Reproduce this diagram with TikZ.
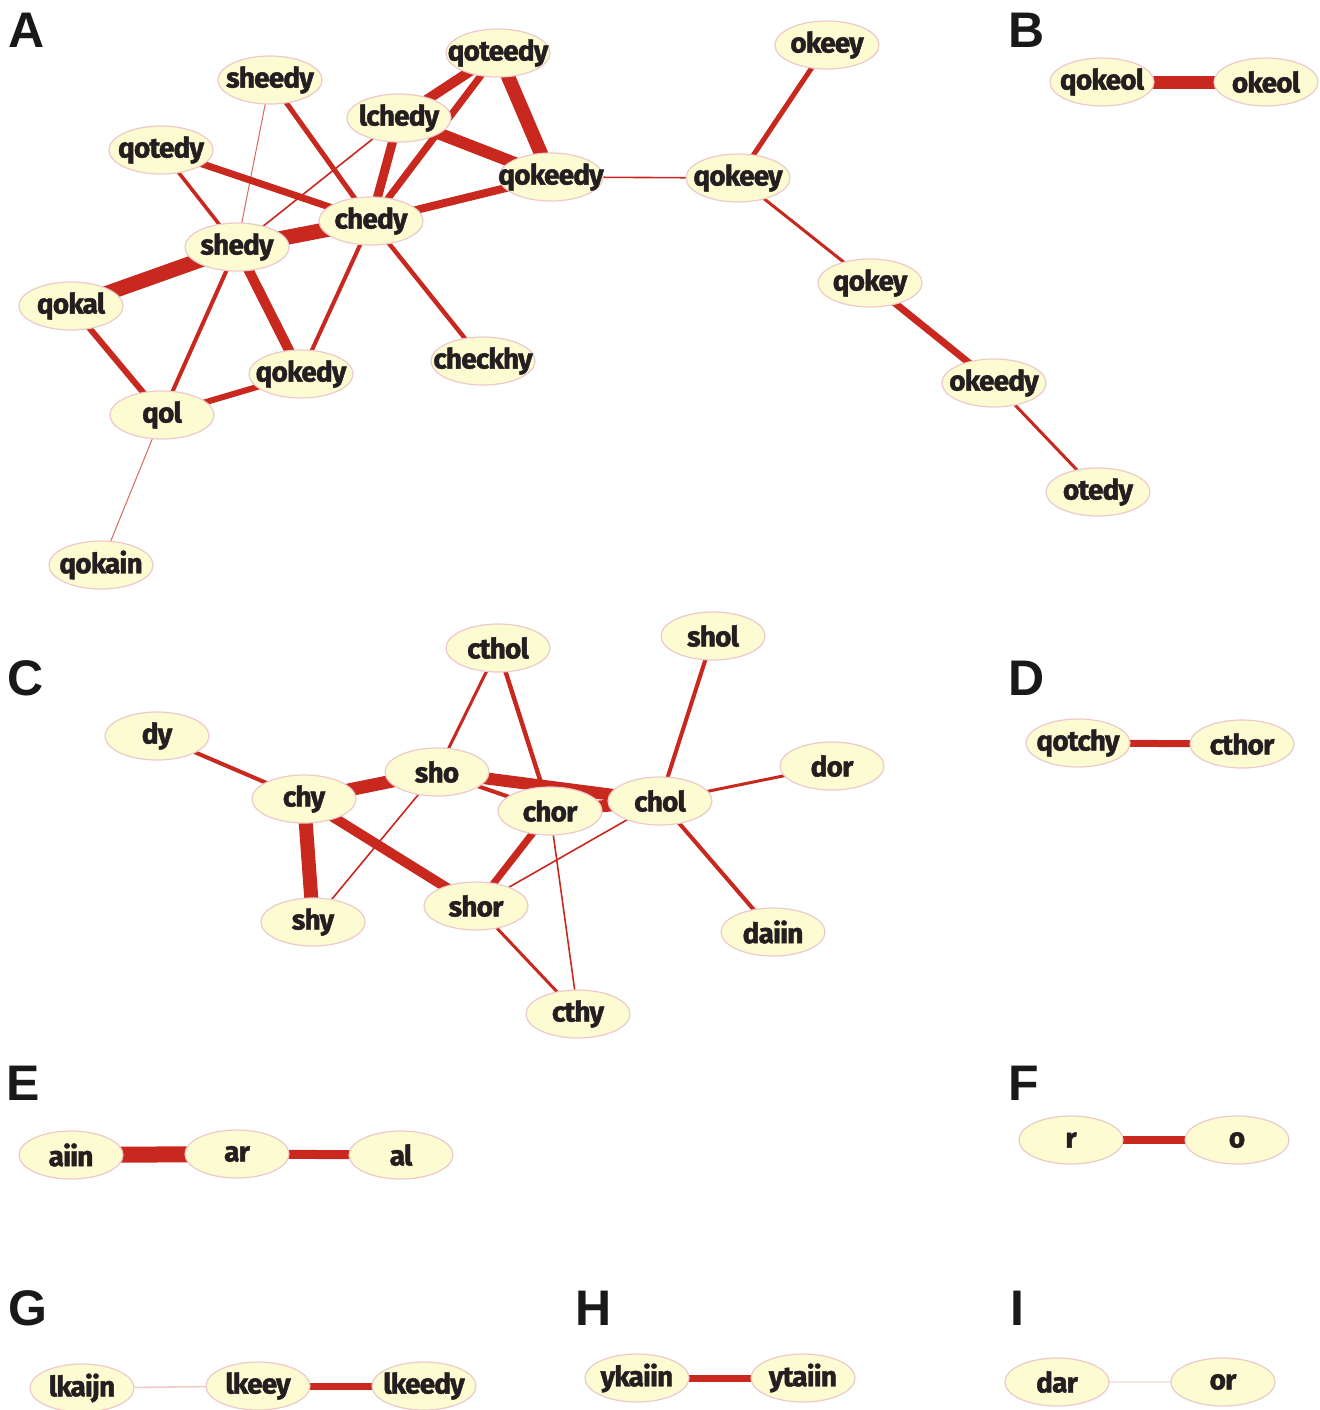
\documentclass[tikz,border=0pt]{standalone}
\usepackage{fontspec}
\usetikzlibrary{shapes.geometric,backgrounds}
\newfontfamily\nodefamily[LetterSpace=-3,FakeBold=1.6]{Fira Sans}
\newfontfamily\lblfamily{Liberation Sans}
\definecolor{edgered}{HTML}{C8281E}
\definecolor{nodefill}{HTML}{FDFBD2}
\definecolor{nodeborder}{HTML}{EDC9C9}
\definecolor{txt}{HTML}{231F20}
\newcommand\ntxt[1]{\makebox[0pt]{#1}}
\tikzset{
  wnode/.style={ellipse, draw=nodeborder, fill=nodefill, line width=0.6pt,
    minimum width=52pt, minimum height=24pt, inner sep=0pt, text=txt,
    font=\nodefamily\bfseries\fontsize{14}{14}\selectfont},
  plabel/.style={text=black!90, inner sep=0pt, font=\lblfamily\bfseries\fontsize{25}{25}\selectfont},
  lnk/.style={draw=edgered, line width=#1},
  thinlnk/.style={draw=edgered!70, line width=#1},
  faintlnk/.style={draw=edgered!25, line width=#1},
}
\begin{document}
\begin{tikzpicture}[x=0.5pt, y=-0.5pt]
\useasboundingbox (0,0) rectangle (1319,1410);
% panel labels
\node[plabel] (lA) at (27,30) {A};
\node[plabel] (lB) at (1027,30) {B};
\node[plabel] (lC) at (26,678) {C};
\node[plabel] (lD) at (1027,678) {D};
\node[plabel] (lE) at (23,1083) {E};
\node[plabel] (lF) at (1024,1083) {F};
\node[plabel] (lG) at (28,1308) {G};
\node[plabel] (lH) at (594,1308) {H};
\node[plabel] (lI) at (1017,1308) {I};
% panel A
\node[wnode] (sheedy) at (270,80) {\ntxt{sheedy}};
\node[wnode] (qoteedy) at (498,53) {\ntxt{qoteedy}};
\node[wnode] (lchedy) at (399,118) {\ntxt{lchedy}};
\node[wnode] (qotedy) at (161,150) {\ntxt{qotedy}};
\node[wnode] (qokeedy) at (551,177) {\ntxt{qokeedy}};
\node[wnode] (chedy) at (371,221) {\ntxt{chedy}};
\node[wnode] (shedy) at (237,247) {\ntxt{shedy}};
\node[wnode] (qokal) at (71,306) {\ntxt{qokal}};
\node[wnode] (qokedy) at (301,374) {\ntxt{qokedy}};
\node[wnode] (checkhy) at (483,361) {\ntxt{checkhy}};
\node[wnode] (qol) at (162,415) {\ntxt{qol}};
\node[wnode] (qokain) at (101,565) {\ntxt{qokain}};
\node[wnode] (okeey) at (827,45) {\ntxt{okeey}};
\node[wnode] (qokeey) at (738,178) {\ntxt{qokeey}};
\node[wnode] (qokey) at (870,283) {\ntxt{qokey}};
\node[wnode] (okeedy) at (994,383) {\ntxt{okeedy}};
\node[wnode] (otedy) at (1098,492) {\ntxt{otedy}};
% panel B
\node[wnode] (qokeol) at (1102,82) {\ntxt{qokeol}};
\node[wnode] (okeol) at (1266,82) {\ntxt{okeol}};
% panel C
\node[wnode] (cthol) at (498,648) {\ntxt{cthol}};
\node[wnode] (shol) at (713,636) {\ntxt{shol}};
\node[wnode] (dy) at (157,736) {\ntxt{dy}};
\node[wnode] (dor) at (832,766) {\ntxt{dor}};
\node[wnode] (chy) at (304,799) {\ntxt{chy}};
\node[wnode] (shy) at (313,922) {\ntxt{shy}};
\node[wnode] (shor) at (476,906) {\ntxt{shor}};
\node[wnode] (daiin) at (773,932) {\ntxt{daiin}};
\node[wnode] (cthy) at (578,1014) {\ntxt{cthy}};
\node[wnode] (sho) at (437,772) {\ntxt{sho}};
\node[wnode] (chor) at (550,811) {\ntxt{chor}};
\node[wnode] (chol) at (660,801) {\ntxt{chol}};
% panel D
\node[wnode] (qotchy) at (1078,743) {\ntxt{qotchy}};
\node[wnode] (cthor) at (1242,744) {\ntxt{cthor}};
% panel E
\node[wnode] (aiin) at (71,1155) {\ntxt{aiin}};
\node[wnode] (ar) at (237,1154) {\ntxt{ar}};
\node[wnode] (al) at (401,1155) {\ntxt{al}};
% panel F
\node[wnode] (r) at (1071,1140) {\ntxt{r}};
\node[wnode] (o) at (1237,1140) {\ntxt{o}};
% panel G
\node[wnode] (lkaijn) at (82,1388) {\ntxt{lkaijn}};
\node[wnode] (lkeey) at (258,1386) {\ntxt{lkeey}};
\node[wnode] (lkeedy) at (424,1386) {\ntxt{lkeedy}};
% panel H
\node[wnode] (ykaiin) at (637,1378) {\ntxt{ykaiin}};
\node[wnode] (ytaiin) at (803,1378) {\ntxt{ytaiin}};
% panel I
\node[wnode] (dar) at (1057,1382) {\ntxt{dar}};
\node[wnode] (or) at (1223,1382) {\ntxt{or}};

\begin{scope}[on background layer]
% A
\draw[lnk=7pt] (qoteedy.center) -- (qokeedy.center);
\draw[lnk=5pt] (qoteedy.center) -- (lchedy.center);
\draw[lnk=3.5pt] (qoteedy.center) -- (chedy.center);
\draw[lnk=6pt] (lchedy.center) -- (qokeedy.center);
\draw[lnk=4.5pt] (lchedy.center) -- (chedy.center);
\draw[lnk=0.8pt] (lchedy.center) -- (shedy.center);
\draw[lnk=2.5pt] (sheedy.center) -- (chedy.center);
\draw[thinlnk=0.5pt] (sheedy.center) -- (shedy.center);
\draw[lnk=3.5pt] (qotedy.center) -- (chedy.center);
\draw[lnk=1.8pt] (qotedy.center) -- (shedy.center);
\draw[lnk=4pt] (qokeedy.center) -- (chedy.center);
\draw[lnk=0.8pt] (qokeedy.center) -- (qokeey.center);
\draw[lnk=7.5pt] (chedy.center) -- (shedy.center);
\draw[lnk=7.5pt] (shedy.center) -- (qokal.center);
\draw[lnk=5pt] (shedy.center) -- (qokedy.center);
\draw[lnk=2pt] (shedy.center) -- (qol.center);
\draw[lnk=2pt] (chedy.center) -- (qokedy.center);
\draw[lnk=2.2pt] (chedy.center) -- (checkhy.center);
\draw[lnk=3pt] (qokal.center) -- (qol.center);
\draw[lnk=3pt] (qol.center) -- (qokedy.center);
\draw[thinlnk=0.5pt] (qol.center) -- (qokain.center);
\draw[lnk=2.5pt] (okeey.center) -- (qokeey.center);
\draw[lnk=1.5pt] (qokeey.center) -- (qokey.center);
\draw[lnk=3.5pt] (qokey.center) -- (okeedy.center);
\draw[lnk=1.5pt] (okeedy.center) -- (otedy.center);
% B
\draw[lnk=6.5pt] (qokeol.center) -- (okeol.center);
% C
\draw[lnk=2pt] (dy.center) -- (chy.center);
\draw[lnk=6.5pt] (chy.center) -- (sho.center);
\draw[lnk=7pt] (chy.center) -- (shy.center);
\draw[lnk=5pt] (chy.center) -- (shor.center);
\draw[lnk=6pt] (sho.center) -- (chol.center);
\draw[lnk=6pt] (chor.center) -- (chol.center);
\draw[lnk=2pt] (sho.center) -- (chor.center);
\draw[lnk=1.5pt] (sho.center) -- (cthol.center);
\draw[lnk=0.8pt] (sho.center) -- (shy.center);
\draw[lnk=2.2pt] (cthol.center) -- (chor.center);
\draw[lnk=2pt] (shol.center) -- (chol.center);
\draw[lnk=1.5pt] (chol.center) -- (dor.center);
\draw[lnk=2pt] (chol.center) -- (daiin.center);
\draw[lnk=0.8pt] (chol.center) -- (shor.center);
\draw[lnk=3.5pt] (chor.center) -- (shor.center);
\draw[lnk=0.8pt] (chor.center) -- (cthy.center);
\draw[lnk=1.5pt] (shor.center) -- (cthy.center);
% D
\draw[lnk=3.5pt] (qotchy.center) -- (cthor.center);
% E
\draw[lnk=8pt] (aiin.center) -- (ar.center);
\draw[lnk=4.5pt] (ar.center) -- (al.center);
% F
\draw[lnk=4pt] (r.center) -- (o.center);
% G
\draw[faintlnk=0.8pt] (lkaijn.center) -- (lkeey.center);
\draw[lnk=3.5pt] (lkeey.center) -- (lkeedy.center);
% H
\draw[lnk=3.5pt] (ykaiin.center) -- (ytaiin.center);
% I
\draw[draw=edgered!12, line width=0.8pt] (dar.center) -- (or.center);
\end{scope}
\end{tikzpicture}
\end{document}
